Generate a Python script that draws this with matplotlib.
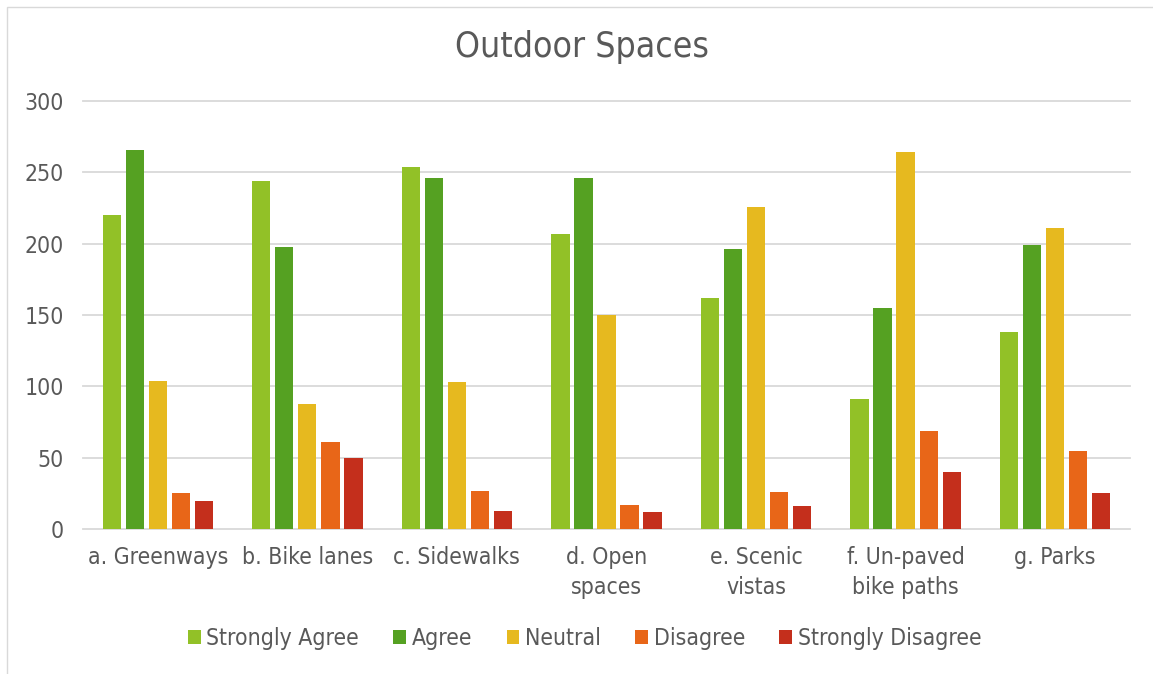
import numpy as np
import matplotlib.pyplot as plt
from matplotlib.patches import Rectangle

# Datos
categorias = ["a. Greenways", "b. Bike lanes", "c. Sidewalks", "d. Open\nspaces",
              "e. Scenic\nvistas", "f. Un-paved\nbike paths", "g. Parks"]
series = ["Strongly Agree", "Agree", "Neutral", "Disagree", "Strongly Disagree"]
strongly_agree = [220, 244, 254, 207, 162, 91, 138]
agree = [266, 198, 246, 246, 196, 155, 199]
neutral = [104, 88, 103, 150, 226, 264, 211]
disagree = [25, 61, 27, 17, 26, 69, 55]
strongly_disagree = [20, 50, 13, 12, 16, 40, 25]

valores = [strongly_agree, agree, neutral, disagree, strongly_disagree]
colores = ["#92C127", "#55A122", "#E6B91F", "#E86618", "#C42F1C"]
gris = "#595959"

# fuente estrecha parecida a la del original
plt.rcParams['font.family'] = ['DejaVu Sans']
plt.rcParams['font.stretch'] = 'condensed'

fig = plt.figure(figsize=(11.53, 6.74), dpi=100)
ax = fig.add_axes([0.072, 0.215, 0.908, 0.635])

x = np.arange(len(categorias))
paso = 0.154
ancho = 0.122
for i, (nombre, vals, col) in enumerate(zip(series, valores, colores)):
    ax.bar(x + (i - 2) * paso, vals, width=ancho, color=col, label=nombre, zorder=3)

ax.set_xlim(-0.5, len(categorias) - 0.5)
ax.set_ylim(0, 300)
ax.set_yticks(range(0, 301, 50))
ax.set_xticks(x)
ax.set_xticklabels(categorias, fontsize=16.5, color=gris, linespacing=1.4)
ax.tick_params(axis='y', labelsize=16.5, colors=gris, length=0, pad=14)
ax.tick_params(axis='x', length=0, pad=12)
ax.grid(axis='y', color='#D9D9D9', linewidth=1.3, zorder=0)
for l in ax.get_ygridlines():
    l.set_clip_on(False)
for s in ax.spines.values():
    s.set_visible(False)

fig.text(0.505, 0.930, "Outdoor Spaces", fontsize=25.5, color=gris,
         ha='center', va='center')

fig.legend(loc='center', bbox_to_anchor=(0.507, 0.053), ncol=5, frameon=False,
           fontsize=16.5, handlelength=0.55, handleheight=0.55, handletextpad=0.25,
           columnspacing=1.5, labelcolor=gris)

fig.patches.append(Rectangle((0.006, -0.01), 1.2, 1.0, transform=fig.transFigure,
                             fill=False, edgecolor='#D9D9D9', linewidth=1))

fig.savefig("out.png", dpi=100)
